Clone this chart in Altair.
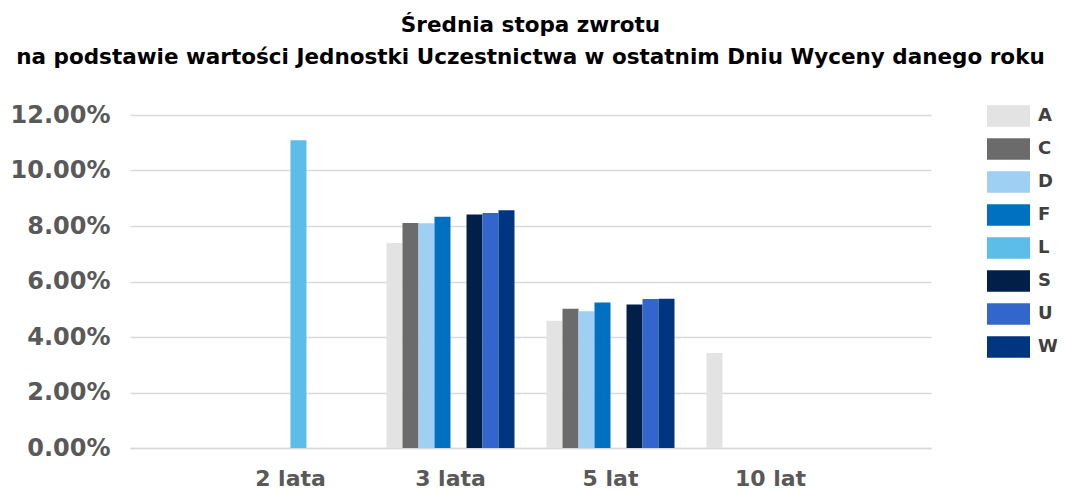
import altair as alt
import pandas as pd

groups = ["2 lata", "3 lata", "5 lat", "10 lat"]
series = ["A", "C", "D", "F", "L", "S", "U", "W"]
colors = ["#e3e3e3", "#6b6b6b", "#9fcff2", "#0070c0", "#5bbde8", "#00204a", "#3366cc", "#00367f"]

vals_2 = {"L": 0.1109}
vals_3 = {"A": 0.0739, "C": 0.0811, "D": 0.0810, "F": 0.0833, "S": 0.0841, "U": 0.0847, "W": 0.0857}
vals_5 = {"A": 0.0459, "C": 0.0502, "D": 0.0493, "F": 0.0524, "S": 0.0517, "U": 0.0537, "W": 0.0538}
vals_10 = {"A": 0.0342}

y_ticks = [0.0, 0.02, 0.04, 0.06, 0.08, 0.10, 0.12]

rows = []
for g, d in zip(groups, [vals_2, vals_3, vals_5, vals_10]):
    for s, v in d.items():
        rows.append({"grupa": g, "seria": s, "wartosc": v})
df = pd.DataFrame(rows)

title = alt.TitleParams(
    text=["Średnia stopa zwrotu",
          "na podstawie wartości Jednostki Uczestnictwa w ostatnim Dniu Wyceny danego roku"],
    font="DejaVu Sans", fontSize=21.5, fontWeight="bold", color="#000000",
    anchor="middle", frame="group", lineHeight=32, offset=26.5,
)

chart = alt.Chart(df, title=title).mark_bar().encode(
    x=alt.X("grupa:N", sort=groups,
            scale=alt.Scale(paddingInner=0.2, paddingOuter=0.603),
            axis=alt.Axis(title=None, labelAngle=0, labelFont="DejaVu Sans", labelFontSize=22,
                          labelFontWeight="bold", labelColor="#595959", ticks=False,
                          labelBaseline="alphabetic",
                          domainColor="#d9d9d9", domainWidth=1.5, labelPadding=37, grid=False)),
    xOffset=alt.XOffset("seria:N", sort=series,
                        scale=alt.Scale(domain=series, paddingInner=0, paddingOuter=0)),
    y=alt.Y("wartosc:Q", scale=alt.Scale(domain=[0, 0.12], nice=False),
            axis=alt.Axis(title=None, values=y_ticks, format=".2%", labelFont="DejaVu Sans",
                          labelFontSize=24, labelFontWeight="bold", labelColor="#595959",
                          ticks=False, domain=False, labelPadding=20,
                          gridColor="#d9d9d9", gridWidth=1.5)),
    color=alt.Color("seria:N", sort=series,
                    scale=alt.Scale(domain=series, range=colors),
                    legend=alt.Legend(title=None, orient="none", legendX=857, legendY=-20.5,
                                      symbolType="M-1,-0.5H1V0.5H-1Z", symbolSize=1849,
                                      symbolStrokeWidth=0, labelFont="DejaVu Sans",
                                      labelFontSize=18, labelFontWeight="bold",
                                      labelColor="#404040", labelOffset=8, rowPadding=0,
                                      padding=0)),
).properties(
    width=801, height=333,
    padding={"left": 122, "top": 107, "right": 126, "bottom": 43},
    autosize=alt.AutoSizeParams(type="none"),
).configure_view(stroke=None)

chart.save("out.html", embed_options={"renderer": "svg", "actions": False})
